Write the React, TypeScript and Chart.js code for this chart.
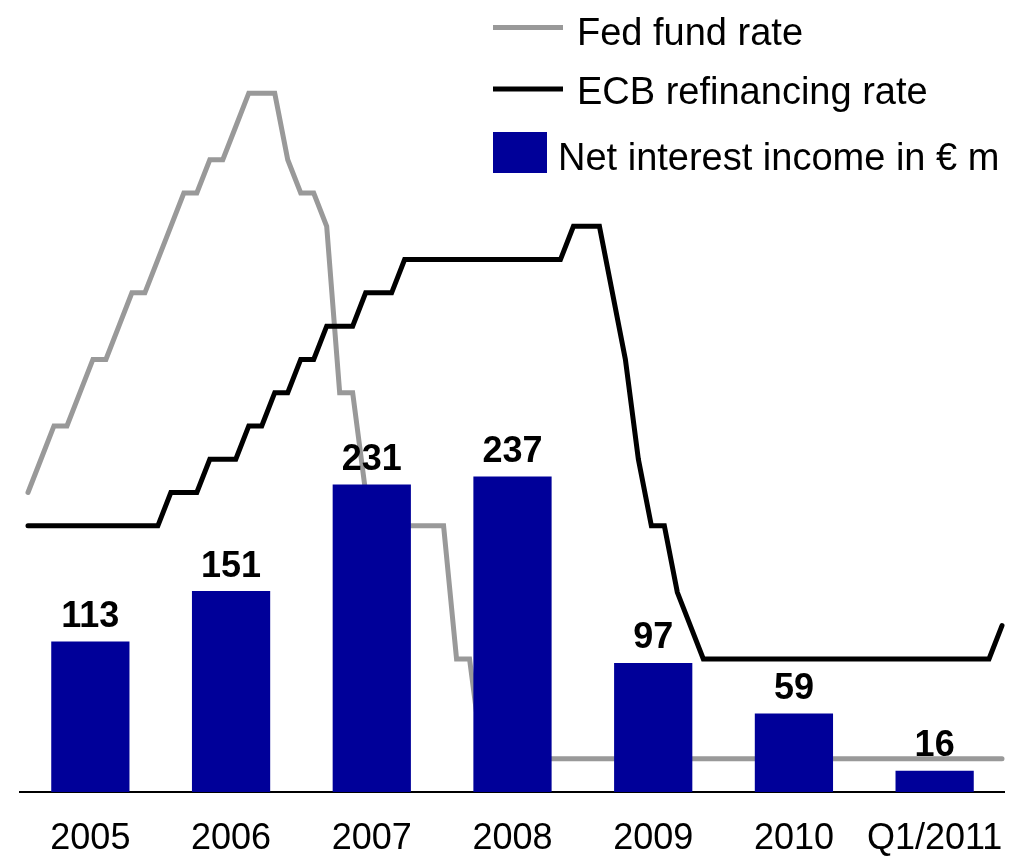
import { useEffect, useRef } from 'react';
import { Chart, registerables } from 'chart.js';

Chart.register(...registerables);

// ---------- data ----------
const categories = ['2005', '2006', '2007', '2008', '2009', '2010', 'Q1/2011'];
const netInterestIncome = [113, 151, 231, 237, 97, 59, 16];

// monthly values, Jan 2005 .. Apr 2011 (in %)
const fedFundRate = [
  2.25, 2.5, 2.75, 2.75, 3.0, 3.25, 3.25, 3.5, 3.75, 3.75,
  4.0, 4.25, 4.5, 4.5, 4.75, 4.75, 5.0, 5.25, 5.25, 5.25,
  4.75, 4.5, 4.5, 4.25, 3.0, 3.0, 2.25, 2.25, 2.0, 2.0,
  2.0, 2.0, 2.0, 1.0, 1.0, 0.25, 0.25, 0.25, 0.25, 0.25,
  0.25, 0.25, 0.25, 0.25, 0.25, 0.25, 0.25, 0.25, 0.25, 0.25,
  0.25, 0.25, 0.25, 0.25, 0.25, 0.25, 0.25, 0.25, 0.25, 0.25,
  0.25, 0.25, 0.25, 0.25, 0.25, 0.25, 0.25, 0.25, 0.25, 0.25,
  0.25, 0.25, 0.25, 0.25, 0.25, 0.25,
];

const ecbRefinancingRate = [
  2.0, 2.0, 2.0, 2.0, 2.0, 2.0, 2.0, 2.0, 2.0, 2.0,
  2.0, 2.25, 2.25, 2.25, 2.5, 2.5, 2.5, 2.75, 2.75, 3.0,
  3.0, 3.25, 3.25, 3.5, 3.5, 3.5, 3.75, 3.75, 3.75, 4.0,
  4.0, 4.0, 4.0, 4.0, 4.0, 4.0, 4.0, 4.0, 4.0, 4.0,
  4.0, 4.0, 4.25, 4.25, 4.25, 3.75, 3.25, 2.5, 2.0, 2.0,
  1.5, 1.25, 1.0, 1.0, 1.0, 1.0, 1.0, 1.0, 1.0, 1.0,
  1.0, 1.0, 1.0, 1.0, 1.0, 1.0, 1.0, 1.0, 1.0, 1.0,
  1.0, 1.0, 1.0, 1.0, 1.0, 1.25,
];

const legendLabels = ['Fed fund rate', 'ECB refinancing rate', 'Net interest income in \u20AC m'];

// ---------- styles ----------
const FONT = "'Liberation Sans', Arial, Helvetica, sans-serif";
const BAR_COLOR = '#000099';
const FED_COLOR = '#999999';
const ECB_COLOR = '#000000';

const valueLabelPlugin = {
  id: 'valueLabels',
  afterDatasetsDraw(chart: any) {
    const ctx = chart.ctx;
    const meta = chart.getDatasetMeta(1);
    ctx.save();
    ctx.font = `bold 36px ${FONT}`;
    ctx.fillStyle = '#000';
    ctx.textAlign = 'center';
    ctx.textBaseline = 'alphabetic';
    meta.data.forEach((bar: any, i: number) => {
      ctx.fillText(String(netInterestIncome[i]), bar.x, bar.y - 14.5);
    });
    ctx.restore();
  },
};

const legendPlugin = {
  id: 'customLegend',
  afterDraw(chart: any) {
    const ctx = chart.ctx;
    ctx.save();
    ctx.font = `38px ${FONT}`;
    ctx.fillStyle = '#000';
    ctx.textAlign = 'left';
    ctx.textBaseline = 'alphabetic';
    ctx.lineCap = 'butt';
    ctx.lineWidth = 5;

    ctx.strokeStyle = FED_COLOR;
    ctx.beginPath();
    ctx.moveTo(493, 27.5);
    ctx.lineTo(563, 27.5);
    ctx.stroke();
    ctx.fillText(legendLabels[0], 577, 44.5);

    ctx.strokeStyle = ECB_COLOR;
    ctx.beginPath();
    ctx.moveTo(493, 89);
    ctx.lineTo(563, 89);
    ctx.stroke();
    ctx.fillText(legendLabels[1], 577, 104);

    ctx.fillStyle = BAR_COLOR;
    ctx.fillRect(493, 132, 54, 41);
    ctx.fillStyle = '#000';
    ctx.fillText(legendLabels[2], 558, 170);
    ctx.restore();
  },
};

export default function App() {
  const canvasRef = useRef<HTMLCanvasElement | null>(null);

  useEffect(() => {
    if (!canvasRef.current) return;
    Chart.defaults.font.family = FONT;
    const chart = new Chart(canvasRef.current, {
      type: 'bar',
      data: {
        labels: categories,
        datasets: [
          {
            type: 'line',
            label: legendLabels[1],
            data: ecbRefinancingRate.map((v, i) => ({ x: i, y: v })),
            xAxisID: 'x2',
            yAxisID: 'y2',
            borderColor: ECB_COLOR,
            borderWidth: 5,
            pointRadius: 0,
            tension: 0,
            fill: false,
            borderJoinStyle: 'miter',
            borderCapStyle: 'round',
            order: 0,
          } as any,
          {
            type: 'bar',
            label: legendLabels[2],
            data: netInterestIncome,
            backgroundColor: BAR_COLOR,
            borderWidth: 0,
            grouped: false,
            barPercentage: 0.556,
            categoryPercentage: 1.0,
            xAxisID: 'x',
            yAxisID: 'y',
            order: 1,
          } as any,
          {
            type: 'line',
            label: legendLabels[0],
            data: fedFundRate.map((v, i) => ({ x: i, y: v })),
            xAxisID: 'x2',
            yAxisID: 'y2',
            borderColor: FED_COLOR,
            borderWidth: 5,
            pointRadius: 0,
            tension: 0,
            fill: false,
            borderJoinStyle: 'miter',
            borderCapStyle: 'round',
            order: 2,
          } as any,
        ],
      },
      options: {
        responsive: false,
        animation: false,
        events: [],
        layout: { padding: { left: 20, right: 23, top: 10, bottom: 0 } },
        plugins: {
          legend: { display: false },
          tooltip: { enabled: false },
          title: { display: false },
        },
        scales: {
          x: {
            type: 'category',
            position: 'bottom',
            offset: true,
            grid: { display: false, drawTicks: false },
            border: { display: true, color: '#000', width: 2 },
            ticks: {
              color: '#000',
              font: { size: 36, family: FONT },
              padding: 25,
              maxRotation: 0,
              autoSkip: false,
            },
            afterFit: (scale: any) => {
              scale.height = 67;
            },
          },
          x2: {
            type: 'linear',
            display: false,
            offset: false,
            grid: { offset: false },
            min: -0.6154,
            max: 75.23,
          },
          y: {
            type: 'linear',
            display: false,
            min: 0,
            max: 587.5,
          },
          y2: {
            type: 'linear',
            display: false,
            min: 0,
            max: 5.875,
          },
        },
      } as any,
      plugins: [valueLabelPlugin, legendPlugin],
    });
    return () => chart.destroy();
  }, []);

  return (
    <div style={{ position: 'fixed', left: 0, top: 0, width: 1029, height: 859, background: '#fff' }}>
      <canvas ref={canvasRef} width={1029} height={859} style={{ display: 'block' }} />
    </div>
  );
}
